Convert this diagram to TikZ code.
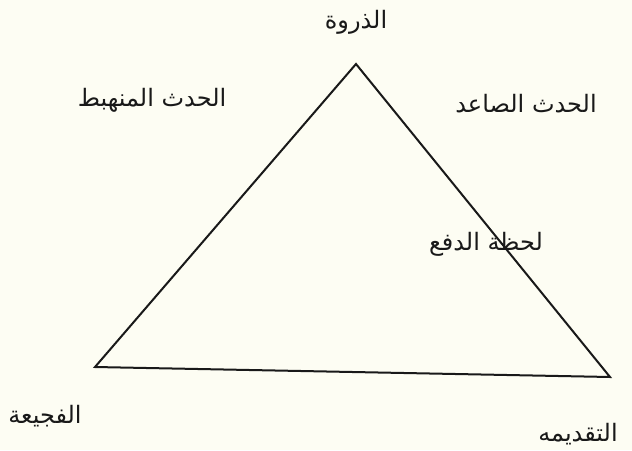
\documentclass[tikz,border=0pt]{standalone}
\usepackage{fontspec}
\newfontfamily\arabicfont[Script=Arabic]{DejaVu Sans}
\TeXXeTstate=1
\usetikzlibrary{positioning}
\definecolor{paper}{RGB}{253,253,243}
\definecolor{ink}{RGB}{25,25,25}
\newcommand{\ar}[1]{\arabicfont\beginR #1\endR}

\begin{document}
\begin{tikzpicture}[x=1pt,y=-1pt,
  lab/.style={font=\fontsize{24}{28}\selectfont,text=ink,inner sep=0pt,anchor=center}]
\fill[paper] (0,0) rectangle (632,450);
\useasboundingbox (0,0) rectangle (632,450);
% triangle
\coordinate (apex) at (356,64);
\coordinate (left) at (95,367);
\coordinate (right) at (610,377);
\draw[ink,line width=2pt,line join=miter] (apex) -- (right) -- (left) -- cycle;
% labels
\node[lab] (peak) at (356,22) {\ar{الذروة}};
\node[lab] (falling) at (152,100) {\ar{الحدث المنهبط}};
\node[lab] (rising) at (526,104) {\ar{الحدث الصاعد}};
\node[lab] (push) at (486,244) {\ar{لحظة الدفع}};
\node[lab] (catastrophe) at (45,416) {\ar{الفجيعة}};
\node[lab] (intro) at (578,434) {\ar{التقديمه}};
\end{tikzpicture}
\end{document}
